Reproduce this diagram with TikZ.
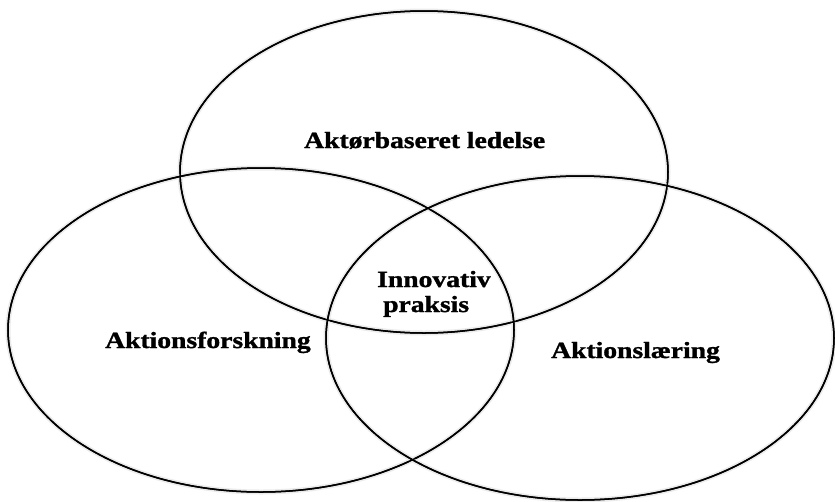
\documentclass[tikz,border=0pt]{standalone}
\usepackage{fontspec}
\setmainfont{Liberation Serif}
\newfontfamily\lblfont[FakeBold=1.2]{Liberation Serif Bold}
\usetikzlibrary{shapes.geometric}
\newcommand{\lbltext}[1]{\scalebox{1}[0.84]{\fontsize{27.6}{30}\lblfont #1}}
\tikzset{
  circ/.style={ellipse, draw=black, line width=1.5pt, inner sep=0pt,
    preaction={draw=black!8, line width=5pt}},
  lbl/.style={anchor=base west, inner sep=0pt, text=black}
}
\begin{document}
\begin{tikzpicture}[x=1pt,y=-1pt]
  \useasboundingbox (0,0) rectangle (835,501);
  % the three overlapping fields
  \node[circ, minimum width=488pt, minimum height=322pt] (top) at (424,172) {};
  \node[circ, minimum width=506pt, minimum height=324pt] (left) at (261,330) {};
  \node[circ, minimum width=508pt, minimum height=324pt] (right) at (580,338) {};
  % redraw outlines so the soft rims sit underneath every line
  \draw[line width=1.5pt] (top.center) ellipse [x radius=244, y radius=161];
  \draw[line width=1.5pt] (left.center) ellipse [x radius=253, y radius=162];
  \draw[line width=1.5pt] (right.center) ellipse [x radius=254, y radius=162];
  % labels
  \node[lbl] (lt) at (304,148) {\lbltext{Aktørbaseret ledelse}};
  \node[lbl] (ll) at (105,348) {\lbltext{Aktionsforskning}};
  \node[lbl] (lr) at (551,358) {\lbltext{Aktionslæring}};
  \node[lbl] (lc1) at (377,287) {\lbltext{Innovativ}};
  \node[lbl] (lc2) at (383,312) {\lbltext{praksis}};
\end{tikzpicture}
\end{document}
